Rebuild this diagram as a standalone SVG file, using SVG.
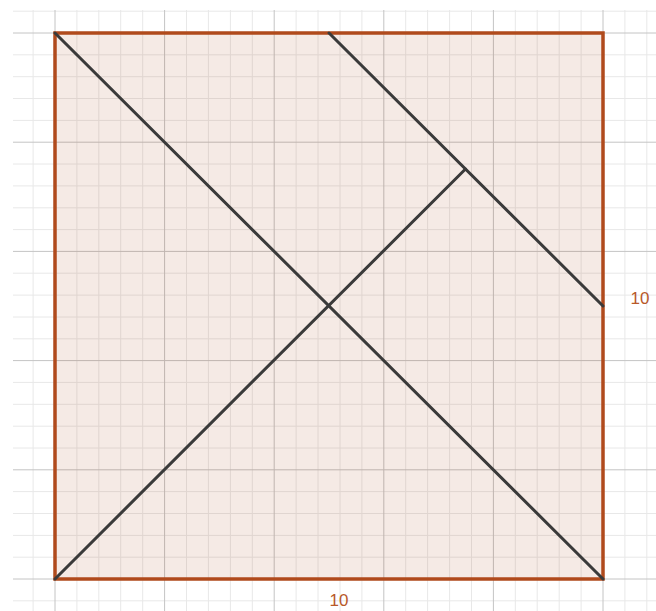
<svg xmlns="http://www.w3.org/2000/svg" width="656" height="611" viewBox="0 0 656 611">
<style>
.minor{stroke:#e8e8e8;stroke-width:1;fill:none}
.major{stroke:#c4c4c4;stroke-width:1;fill:none}
.seg{stroke:#3a3a3a;stroke-width:3;stroke-linecap:round;fill:none}
.lbl{font-family:"Liberation Sans",Arial,sans-serif;font-size:17px;fill:#b8592a;text-anchor:middle}
</style>
<rect width="656" height="611" fill="#ffffff"/>
<g id="grid">
<path class="minor" d="M33.1 10V611M76.9 10V611M98.8 10V611M120.7 10V611M142.7 10V611M186.5 10V611M208.4 10V611M230.4 10V611M252.3 10V611M296.1 10V611M318 10V611M340 10V611M361.9 10V611M405.7 10V611M427.6 10V611M449.6 10V611M471.5 10V611M515.3 10V611M537.2 10V611M559.2 10V611M581.1 10V611M624.9 10V611M646.8 10V611
M13 11.2H656M13 54.8H656M13 76.7H656M13 98.5H656M13 120.4H656M13 164H656M13 185.9H656M13 207.8H656M13 229.6H656M13 273.2H656M13 295.1H656M13 317H656M13 338.8H656M13 382.4H656M13 404.3H656M13 426.2H656M13 448H656M13 491.6H656M13 513.5H656M13 535.4H656M13 557.2H656M13 600.8H656"/>
<path class="major" d="M55 10V611M164.6 10V611M274.2 10V611M383.8 10V611M493.4 10V611M603 10V611
M13 33H656M13 142.2H656M13 251.4H656M13 360.6H656M13 469.8H656M13 579H656"/>
</g>
<g id="square">
<rect x="55" y="33" width="548" height="546" fill="#993300" fill-opacity="0.1" stroke="#b04a1c" stroke-width="3.5"/>
</g>
<g id="connectors">
<line class="seg" x1="55" y1="33" x2="603" y2="579"/>
<line class="seg" x1="55" y1="579" x2="465.5" y2="169"/>
<line class="seg" x1="329" y1="33" x2="603" y2="306"/>
</g>
<g id="labels">
<text class="lbl" x="640" y="304">10</text>
<text class="lbl" x="339" y="606">10</text>
</g>
</svg>
